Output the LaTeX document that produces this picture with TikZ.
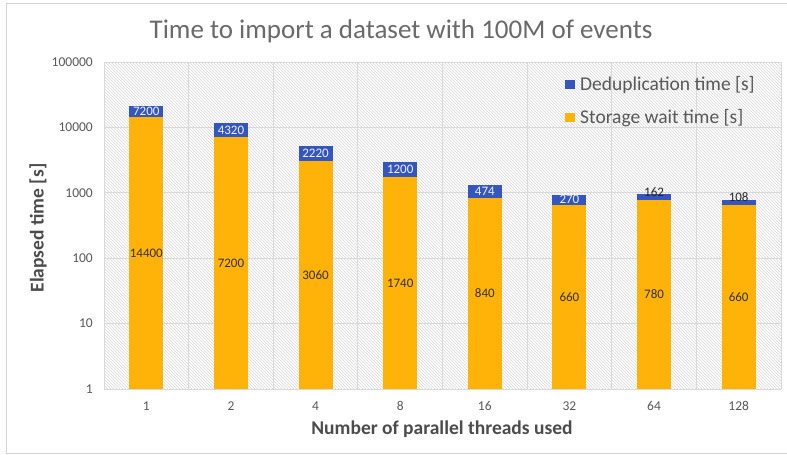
\documentclass[tikz,border=0pt]{standalone}
\usepackage{fontspec}
\setmainfont{Carlito}
\usetikzlibrary{patterns}
\definecolor{dedup}{RGB}{52,86,190}
\definecolor{stor}{RGB}{255,178,8}
\definecolor{txtgray}{RGB}{89,89,89}
\definecolor{gridc}{RGB}{217,217,217}
\definecolor{framec}{RGB}{210,210,210}
\begin{document}
\begin{tikzpicture}[x=1pt,y=-1pt,
  ticklab/.style={font=\fontsize{13.5}{15}\selectfont, text=txtgray, inner sep=0pt},
  storlab/.style={font=\fontsize{13}{15}\selectfont, text=black!80, inner sep=0pt},
  deduplab/.style={font=\fontsize{13}{15}\selectfont, text=white!92!dedup, inner sep=0pt},
  outlab/.style={font=\fontsize{13}{15}\selectfont, text=black!85, inner sep=0pt},
  axtitle/.style={font=\fontsize{19.5}{22}\selectfont\bfseries, text=txtgray!85!black, inner sep=0pt},
  legtext/.style={font=\fontsize{19.5}{22}\selectfont, text=txtgray, inner sep=0pt, anchor=west},
  gridline/.style={draw=gridc, line width=0.8pt}
]
\useasboundingbox (0,0) rectangle (787,455);
\fill[white] (0,0) rectangle (787,455);
\draw[framec, line width=1pt] (6,3) rectangle (800,453);
% plot area
\fill[pattern=north west lines, pattern color=black!16] (104,62) rectangle (781,389);
% grid
\foreach \k in {0,...,5} {
  \pgfmathsetmacro{\yy}{389-\k*65.4}
  \draw[gridline] (104,\yy) -- (781,\yy);
}
\foreach \k in {0,...,8} {
  \pgfmathsetmacro{\xx}{104+\k*84.625}
  \draw[gridline] (\xx,62) -- (\xx,389);
}
% y tick labels
\foreach \k/\lab in {0/1,1/10,2/100,3/1000,4/10000,5/100000} {
  \pgfmathsetmacro{\yy}{389-\k*65.4}
  \node[ticklab, anchor=east] (yt\k) at (93,\yy) {\lab};
}
% bars
\foreach \i/\s/\d/\t/\dstyle/\doff in {0/14400/7200/1/deduplab/0, 1/7200/4320/2/deduplab/0, 2/3060/2220/4/deduplab/0, 3/1740/1200/8/deduplab/0, 4/840/474/16/deduplab/0, 5/660/270/32/deduplab/0, 6/780/162/64/outlab/-5, 7/660/108/128/outlab/-5.5} {
  \pgfmathsetmacro{\cx}{104+(\i+0.5)*84.625}
  \pgfmathsetmacro{\ys}{389-(ln(\s/1000)/ln(10)+3)*65.4}
  \pgfmathsetmacro{\yt}{389-(ln(\s/1000+\d/1000)/ln(10)+3)*65.4}
  \pgfmathsetmacro{\ym}{(389+\ys)/2}
  \pgfmathsetmacro{\yd}{(\ys+\yt)/2+\doff}
  \fill[stor] (\cx-17,389) rectangle (\cx+17,\ys);
  \fill[dedup] (\cx-17,\ys) rectangle (\cx+17,\yt);
  \node[storlab] (s\i) at (\cx,\ym) {\s};
  \node[\dstyle] (d\i) at (\cx,\yd) {\d};
  \node[ticklab] (xt\i) at (\cx,406) {\t};
}
% legend
\fill[dedup] (565,80) rectangle (575,89);
\node[legtext] (leg1) at (580,85) {Deduplication time [s]};
\fill[stor] (565,113) rectangle (575,122);
\node[legtext] (leg2) at (580,118) {Storage wait time [s]};
% titles
\node[font=\fontsize{27}{31}\selectfont, text=txtgray!90, inner sep=0pt] (title) at (401,31) {Time to import a dataset with 100M of events};
\node[axtitle] (xtitle) at (442,429) {Number of parallel threads used};
\node[axtitle, rotate=90] (ytitle) at (38,228) {Elapsed time [s]};
\end{tikzpicture}
\end{document}
